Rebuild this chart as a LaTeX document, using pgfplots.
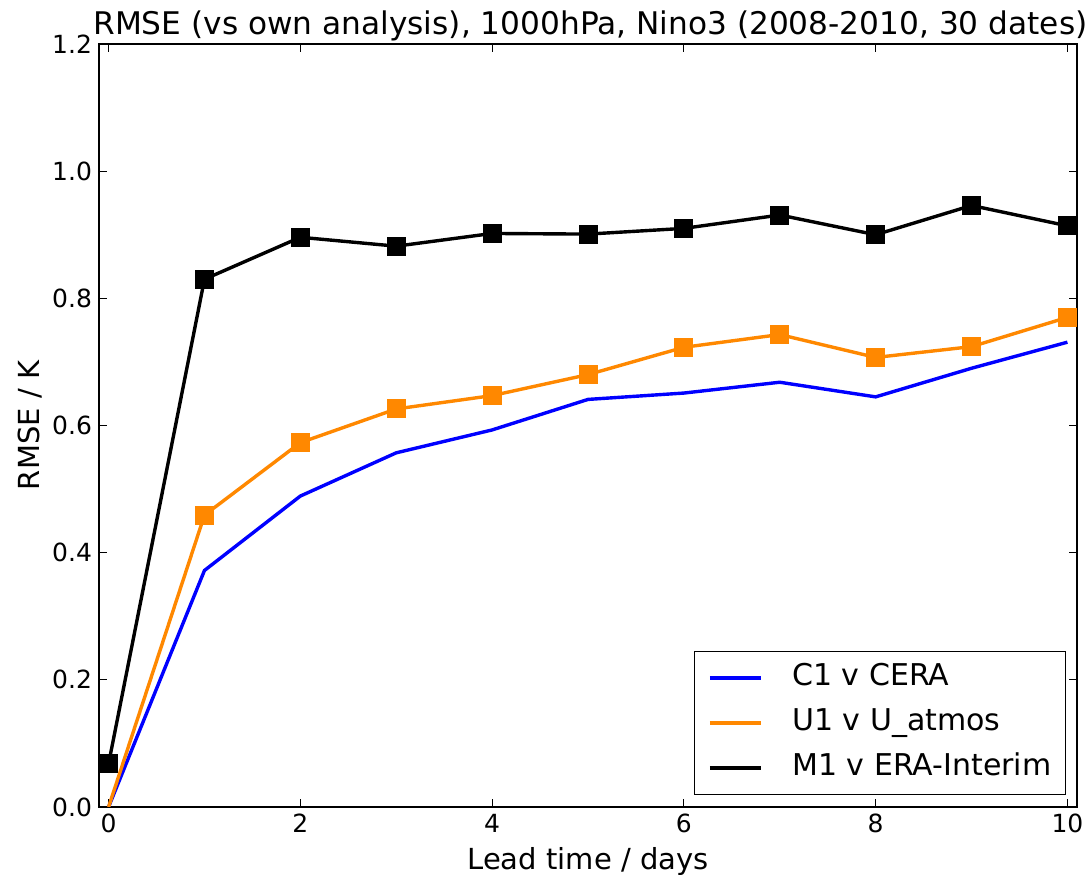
\documentclass[border=0pt]{standalone}
\usepackage{pgfplots}
\pgfplotsset{compat=1.18}
\usepackage{fontspec}
\setmainfont{DejaVu Sans}
\definecolor{mplorange}{RGB}{255,136,0}
\begin{document}
\begin{tikzpicture}
\begin{axis}[
  scale only axis,
  width=489pt, height=381.5pt,
  xmin=-0.1, xmax=10.1, ymin=0, ymax=1.2,
  xtick={0,2,4,6,8,10},
  ytick={0,0.2,0.4,0.6,0.8,1.0,1.2},
  yticklabel style={/pgf/number format/fixed,/pgf/number format/fixed zerofill,/pgf/number format/precision=1},
  /pgf/number format/assume math mode=true,
  tick label style={font=\fontsize{12.5}{14}\selectfont},
  label style={font=\fontsize{14.5}{16}\selectfont},
  xlabel={Lead time / days},
  ylabel={RMSE / K},
  title={RMSE (vs own analysis), 1000hPa, Nino3 (2008-2010, 30 dates)},
  title style={font=\fontsize{15.6}{17}\selectfont, yshift=-8pt, xshift=1.2pt},
  major tick length=4pt,
  tick align=inside,
  axis line style={line width=0.8pt},
  every tick/.style={black, line width=0.6pt},
  xlabel style={yshift=-0.5pt},
  ylabel style={yshift=-2pt},
  legend style={at={(0.9888,0.0157)}, anchor=south east, draw=black, line width=0.6pt,
    font=\fontsize{15}{17}\selectfont, inner xsep=7pt, inner ysep=6pt,
    nodes={inner sep=0pt, text height=11pt, text depth=3.5pt},
    row sep=8pt, column sep=0pt, cells={anchor=west}},
  legend image code/.code={\draw[mark=none, line width=1.6pt] (2.5pt,0pt) -- (28pt,0pt);},
  legend cell align=left,
]
\addplot[color=blue, line width=1.7pt, mark=none] coordinates {
(0,0) (1,0.372) (2,0.489) (3,0.557) (4,0.593) (5,0.641) (6,0.651) (7,0.668) (8,0.645) (9,0.690) (10,0.731)};
\addlegendentry{\hspace*{15pt}C1 v CERA}
\addplot[color=mplorange, line width=1.7pt, mark=square*, mark size=4.5pt, mark indices={2,3,4,5,6,7,8,9,10,11}, mark options={solid, fill=mplorange, draw=mplorange, line width=0pt}] coordinates {
(0,0) (1,0.459) (2,0.573) (3,0.626) (4,0.647) (5,0.680) (6,0.723) (7,0.743) (8,0.707) (9,0.724) (10,0.770)};
\addlegendentry{\hspace*{15pt}U1 v U\_atmos}
\addplot[color=black, line width=1.7pt, mark=square*, mark size=4.5pt, mark options={solid, fill=black, line width=0pt}] coordinates {
(0,0.068) (1,0.830) (2,0.896) (3,0.882) (4,0.902) (5,0.901) (6,0.910) (7,0.931) (8,0.900) (9,0.946) (10,0.914)};
\addlegendentry{\hspace*{15pt}M1 v ERA-Interim}
\end{axis}
\pgfresetboundingbox
\useasboundingbox ([shift={(-49.5pt,-34pt)}]current axis.south west) rectangle ([shift={(5.5pt,22pt)}]current axis.north east);
\end{tikzpicture}
\end{document}
